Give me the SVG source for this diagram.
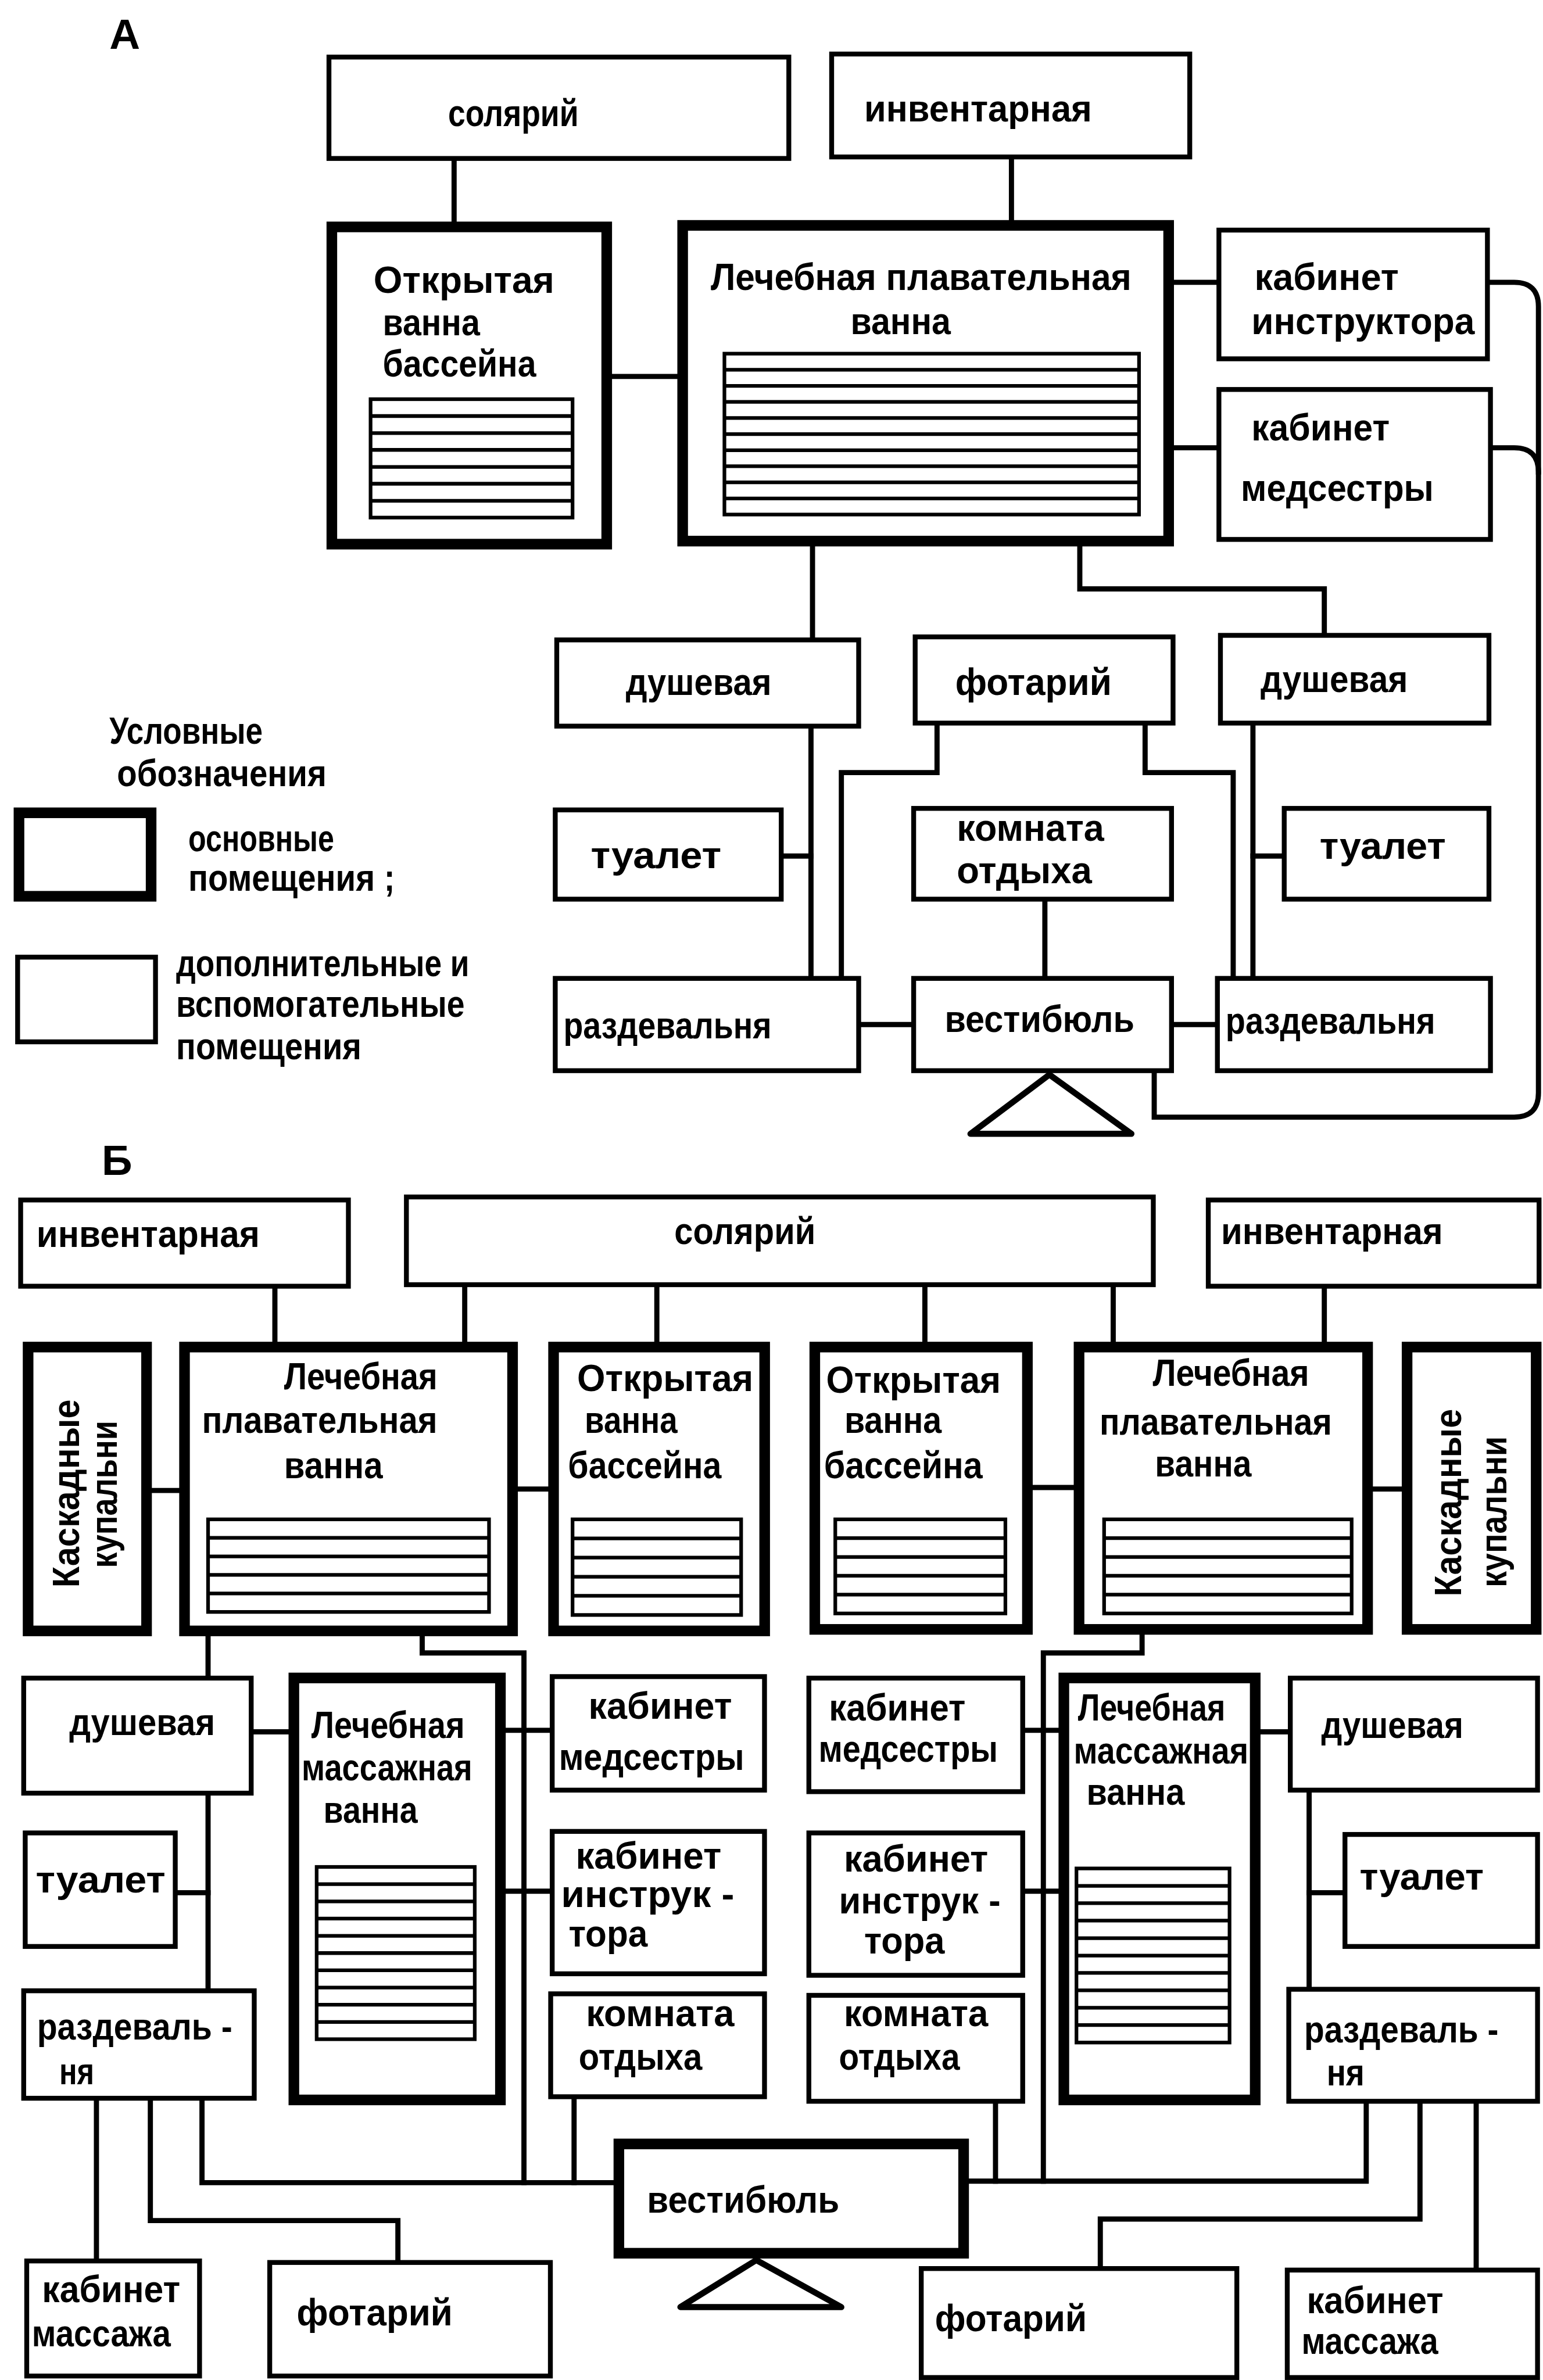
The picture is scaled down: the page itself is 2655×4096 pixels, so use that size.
<svg xmlns="http://www.w3.org/2000/svg" width="2655" height="4096" viewBox="0 0 2655 4096">
<style>
  .box { fill: #fff; stroke: #000; stroke-width: 3.2; }
  .main { fill: #fff; stroke: #000; stroke-width: 7; }
  .wire { fill: none; stroke: #000; stroke-width: 3.4; stroke-linejoin: miter; stroke-linecap: square; }
  .pool { fill: none; stroke: #000; stroke-width: 2.4; }
  .entry { fill: #fff; stroke: #000; stroke-width: 4; stroke-linejoin: round; }
  text { font-family: "Liberation Sans Narrow", "Liberation Sans", Arial, sans-serif; font-size: 25px; font-weight: bold; fill: #000; }
  .tag { font-size: 28px; }
</style>
<rect width="2655" height="4096" fill="#fff"/>
<g transform="scale(2.6132,2.6122)">

  <!-- scheme A : links between rooms -->
  <g id="connectors-a">
    <path class="wire" d="M299,106V146"/>
    <path class="wire" d="M666,105V145"/>
    <path class="wire" d="M403,248H446"/>
    <path class="wire" d="M773,186H801"/>
    <path class="wire" d="M773,295H801"/>
    <path class="wire" d="M981,186H997Q1013,186 1013,202V720Q1013,736 997,736H760V707"/>
    <path class="wire" d="M983,295H997Q1013,295 1013,311"/>
    <path class="wire" d="M535,360V420"/>
    <path class="wire" d="M711,360V388H872V417"/>
    <path class="wire" d="M534,480V643"/>
    <path class="wire" d="M516,564H534"/>
    <path class="wire" d="M617,478V509H554V643"/>
    <path class="wire" d="M754,478V509H812V643"/>
    <path class="wire" d="M825,478V643"/>
    <path class="wire" d="M825,564H844"/>
    <path class="wire" d="M688,594V643"/>
    <path class="wire" d="M567,675H600"/>
    <path class="wire" d="M773,675H800"/>
  </g>

  <!-- scheme B : links between rooms -->
  <g id="connectors-b">
    <path class="wire" d="M181,849V884"/>
    <path class="wire" d="M306,848V884"/>
    <path class="wire" d="M432.5,848V884"/>
    <path class="wire" d="M609,848V884"/>
    <path class="wire" d="M733,848V884"/>
    <path class="wire" d="M872,849V884"/>
    <path class="wire" d="M100,982H118"/>
    <path class="wire" d="M341,981H361"/>
    <path class="wire" d="M680,980H707"/>
    <path class="wire" d="M904,981H923"/>
    <path class="wire" d="M137,1078V1104"/>
    <path class="wire" d="M137,1183V1310"/>
    <path class="wire" d="M117,1247H137"/>
    <path class="wire" d="M167,1141H190"/>
    <path class="wire" d="M278,1078V1089H345V1438"/>
    <path class="wire" d="M333,1140H362"/>
    <path class="wire" d="M333,1246H362"/>
    <path class="wire" d="M378,1383V1438"/>
    <path class="wire" d="M133,1384V1438H404"/>
    <path class="wire" d="M99,1384V1463H262V1489"/>
    <path class="wire" d="M63.5,1384V1488"/>
    <path class="wire" d="M752,1077V1089H687V1437"/>
    <path class="wire" d="M675,1140H697"/>
    <path class="wire" d="M675,1246H697"/>
    <path class="wire" d="M655.5,1386V1437"/>
    <path class="wire" d="M638,1437H899.6V1386"/>
    <path class="wire" d="M935,1386V1462H724.5V1493"/>
    <path class="wire" d="M972,1386V1494"/>
    <path class="wire" d="M830,1141H848"/>
    <path class="wire" d="M862,1181V1309"/>
    <path class="wire" d="M862,1247H884"/>
  </g>

  <!-- ===================== scheme A ===================== -->
  <text class="tag" x="72" y="32">А</text>

  <g id="a-solarium">
    <rect class="box" x="216.6" y="37.6" width="302.8" height="66.8"/>
    <text x="295" y="83" textLength="86" lengthAdjust="spacingAndGlyphs">солярий</text>
  </g>
  <g id="a-inventory">
    <rect class="box" x="547.6" y="35.6" width="235.8" height="67.8"/>
    <text x="569" y="80" textLength="150" lengthAdjust="spacingAndGlyphs">инвентарная</text>
  </g>
  <g id="a-open-pool">
    <rect class="main" x="218.5" y="149.5" width="181" height="209"/>
    <text x="246" y="193" textLength="119" lengthAdjust="spacingAndGlyphs">Открытая</text>
    <text x="252" y="221" textLength="64" lengthAdjust="spacingAndGlyphs">ванна</text>
    <text x="252" y="248" textLength="101" lengthAdjust="spacingAndGlyphs">бассейна</text>
    <rect class="pool" x="244" y="263" width="133" height="78"/>
    <path class="pool" d="M244,274.1H377M244,285.3H377M244,296.4H377M244,307.6H377M244,318.7H377M244,329.9H377"/>
  </g>
  <g id="a-swim-pool">
    <rect class="main" x="449.5" y="148.5" width="320" height="208"/>
    <text x="468" y="191" textLength="277" lengthAdjust="spacingAndGlyphs">Лечебная плавательная</text>
    <text x="560" y="220" textLength="66" lengthAdjust="spacingAndGlyphs">ванна</text>
    <rect class="pool" x="477" y="233" width="273" height="106"/>
    <path class="pool" d="M477,243.6H750M477,254.2H750M477,264.8H750M477,275.4H750M477,286H750M477,296.6H750M477,307.2H750M477,317.8H750M477,328.4H750"/>
  </g>
  <g id="a-instructor">
    <rect class="box" x="802.6" y="151.6" width="176.8" height="84.8"/>
    <text x="826" y="191" textLength="95" lengthAdjust="spacingAndGlyphs">кабинет</text>
    <text x="824" y="220" textLength="147" lengthAdjust="spacingAndGlyphs">инструктора</text>
  </g>
  <g id="a-nurse">
    <rect class="box" x="802.6" y="256.6" width="178.8" height="98.8"/>
    <text x="824" y="290" textLength="91" lengthAdjust="spacingAndGlyphs">кабинет</text>
    <text x="817" y="330" textLength="127" lengthAdjust="spacingAndGlyphs">медсестры</text>
  </g>
  <g id="a-shower-left">
    <rect class="box" x="366.6" y="421.6" width="198.8" height="56.8"/>
    <text x="412" y="458" textLength="96" lengthAdjust="spacingAndGlyphs">душевая</text>
  </g>
  <g id="a-photarium">
    <rect class="box" x="602.6" y="419.6" width="169.8" height="56.8"/>
    <text x="629" y="458" textLength="103" lengthAdjust="spacingAndGlyphs">фотарий</text>
  </g>
  <g id="a-shower-right">
    <rect class="box" x="803.6" y="418.6" width="176.8" height="57.8"/>
    <text x="830" y="456" textLength="97" lengthAdjust="spacingAndGlyphs">душевая</text>
  </g>
  <g id="a-wc-left">
    <rect class="box" x="365.6" y="533.6" width="148.8" height="58.8"/>
    <text x="389" y="572" textLength="86" lengthAdjust="spacingAndGlyphs">туалет</text>
  </g>
  <g id="a-rest">
    <rect class="box" x="601.6" y="532.6" width="169.8" height="59.8"/>
    <text x="630" y="554" textLength="97" lengthAdjust="spacingAndGlyphs">комната</text>
    <text x="630" y="582" textLength="89" lengthAdjust="spacingAndGlyphs">отдыха</text>
  </g>
  <g id="a-wc-right">
    <rect class="box" x="845.6" y="532.6" width="134.8" height="59.8"/>
    <text x="869" y="566" textLength="83" lengthAdjust="spacingAndGlyphs">туалет</text>
  </g>
  <g id="a-changing-left">
    <rect class="box" x="365.6" y="644.6" width="199.8" height="60.8"/>
    <text x="371" y="684" textLength="137" lengthAdjust="spacingAndGlyphs">раздевальня</text>
  </g>
  <g id="a-lobby">
    <rect class="box" x="601.6" y="644.6" width="169.8" height="60.8"/>
    <text x="622" y="680" textLength="125" lengthAdjust="spacingAndGlyphs">вестибюль</text>
    <path class="entry" d="M691,708L639,747H745Z"/>
  </g>
  <g id="a-changing-right">
    <rect class="box" x="801.6" y="644.6" width="179.8" height="60.8"/>
    <text x="807" y="681" textLength="138" lengthAdjust="spacingAndGlyphs">раздевальня</text>
  </g>

  <!-- legend -->
  <g id="legend">
    <text x="72" y="490" textLength="101" lengthAdjust="spacingAndGlyphs">Условные</text>
    <text x="77" y="518" textLength="138" lengthAdjust="spacingAndGlyphs">обозначения</text>
    <rect class="main" x="12.5" y="535.5" width="87" height="55"/>
    <text x="124" y="561" textLength="96" lengthAdjust="spacingAndGlyphs">основные</text>
    <text x="124" y="587" textLength="136" lengthAdjust="spacingAndGlyphs">помещения ;</text>
    <rect class="box" x="11.6" y="630.6" width="90.8" height="55.8"/>
    <text x="116" y="643" textLength="193" lengthAdjust="spacingAndGlyphs">дополнительные и</text>
    <text x="116" y="670" textLength="190" lengthAdjust="spacingAndGlyphs">вспомогательные</text>
    <text x="116" y="698" textLength="122" lengthAdjust="spacingAndGlyphs">помещения</text>
  </g>

  <!-- ===================== scheme B ===================== -->
  <text class="tag" x="67" y="774">Б</text>

  <g id="b-inventory-left">
    <rect class="box" x="13.6" y="790.6" width="215.8" height="56.8"/>
    <text x="24" y="821.5" textLength="147" lengthAdjust="spacingAndGlyphs">инвентарная</text>
  </g>
  <g id="b-solarium">
    <rect class="box" x="267.6" y="788.6" width="491.8" height="57.8"/>
    <text x="444" y="819.5" textLength="93" lengthAdjust="spacingAndGlyphs">солярий</text>
  </g>
  <g id="b-inventory-right">
    <rect class="box" x="795.6" y="790.6" width="217.8" height="56.8"/>
    <text x="804" y="819.5" textLength="146" lengthAdjust="spacingAndGlyphs">инвентарная</text>
  </g>

  <g id="b-cascade-left">
    <rect class="main" x="18.5" y="887.5" width="78" height="187"/>
    <text transform="translate(52,984) rotate(-90)" text-anchor="middle" textLength="124" lengthAdjust="spacingAndGlyphs">Каскадные</text>
    <text transform="translate(77,984.5) rotate(-90)" text-anchor="middle" textLength="97" lengthAdjust="spacingAndGlyphs">купальни</text>
  </g>
  <g id="b-swim-left">
    <rect class="main" x="121.5" y="887.5" width="216" height="187"/>
    <text x="187" y="915.5" textLength="101" lengthAdjust="spacingAndGlyphs">Лечебная</text>
    <text x="133" y="944" textLength="155" lengthAdjust="spacingAndGlyphs">плавательная</text>
    <text x="187" y="974" textLength="65" lengthAdjust="spacingAndGlyphs">ванна</text>
    <rect class="pool" x="137" y="1001" width="185" height="61"/>
    <path class="pool" d="M137,1013.2H322M137,1025.4H322M137,1037.6H322M137,1049.8H322"/>
  </g>
  <g id="b-open-left">
    <rect class="main" x="364.5" y="887.5" width="139" height="187"/>
    <text x="380" y="916.5" textLength="116" lengthAdjust="spacingAndGlyphs">Открытая</text>
    <text x="385" y="944" textLength="61" lengthAdjust="spacingAndGlyphs">ванна</text>
    <text x="374" y="974" textLength="101" lengthAdjust="spacingAndGlyphs">бассейна</text>
    <rect class="pool" x="377" y="1001" width="111" height="63"/>
    <path class="pool" d="M377,1013.6H488M377,1026.2H488M377,1038.8H488M377,1051.4H488"/>
  </g>
  <g id="b-open-right">
    <rect class="main" x="536.5" y="887.5" width="140" height="186"/>
    <text x="544" y="917.5" textLength="115" lengthAdjust="spacingAndGlyphs">Открытая</text>
    <text x="556" y="944" textLength="64" lengthAdjust="spacingAndGlyphs">ванна</text>
    <text x="542.5" y="974" textLength="104.5" lengthAdjust="spacingAndGlyphs">бассейна</text>
    <rect class="pool" x="550" y="1001" width="112" height="62"/>
    <path class="pool" d="M550,1013.4H662M550,1025.8H662M550,1038.2H662M550,1050.6H662"/>
  </g>
  <g id="b-swim-right">
    <rect class="main" x="710.5" y="887.5" width="190" height="186"/>
    <text x="759" y="913" textLength="103" lengthAdjust="spacingAndGlyphs">Лечебная</text>
    <text x="724" y="945" textLength="153" lengthAdjust="spacingAndGlyphs">плавательная</text>
    <text x="760.5" y="972.6" textLength="63.5" lengthAdjust="spacingAndGlyphs">ванна</text>
    <rect class="pool" x="727" y="1001" width="163" height="62"/>
    <path class="pool" d="M727,1013.4H890M727,1025.8H890M727,1038.2H890M727,1050.6H890"/>
  </g>
  <g id="b-cascade-right">
    <rect class="main" x="926.5" y="887.5" width="85" height="186"/>
    <text transform="translate(962,990) rotate(-90)" text-anchor="middle" textLength="123.5" lengthAdjust="spacingAndGlyphs">Каскадные</text>
    <text transform="translate(992,996) rotate(-90)" text-anchor="middle" textLength="99.5" lengthAdjust="spacingAndGlyphs">купальни</text>
  </g>

  <g id="b-shower-left">
    <rect class="box" x="15.6" y="1105.6" width="149.8" height="75.8"/>
    <text x="45.6" y="1143" textLength="96" lengthAdjust="spacingAndGlyphs">душевая</text>
  </g>
  <g id="b-massage-bath-left">
    <rect class="main" x="193.5" y="1105.5" width="136" height="278"/>
    <text x="205" y="1145" textLength="101" lengthAdjust="spacingAndGlyphs">Лечебная</text>
    <text x="198.6" y="1173" textLength="112.4" lengthAdjust="spacingAndGlyphs">массажная</text>
    <text x="213" y="1200.8" textLength="62" lengthAdjust="spacingAndGlyphs">ванна</text>
    <rect class="pool" x="208.5" y="1230" width="104.1" height="113.5"/>
    <path class="pool" d="M208.5,1241.35H312.6M208.5,1252.7H312.6M208.5,1264.05H312.6M208.5,1275.4H312.6M208.5,1286.75H312.6M208.5,1298.1H312.6M208.5,1309.45H312.6M208.5,1320.8H312.6M208.5,1332.15H312.6"/>
  </g>
  <g id="b-nurse-left">
    <rect class="box" x="363.6" y="1104.6" width="139.8" height="74.8"/>
    <text x="387.5" y="1132.4" textLength="94.5" lengthAdjust="spacingAndGlyphs">кабинет</text>
    <text x="368" y="1166" textLength="122" lengthAdjust="spacingAndGlyphs">медсестры</text>
  </g>
  <g id="b-wc-left">
    <rect class="box" x="16.6" y="1207.6" width="98.8" height="74.8"/>
    <text x="23.5" y="1247" textLength="85.5" lengthAdjust="spacingAndGlyphs">туалет</text>
  </g>
  <g id="b-instructor-left">
    <rect class="box" x="363.6" y="1206.6" width="139.8" height="93.8"/>
    <text x="379" y="1231" textLength="96" lengthAdjust="spacingAndGlyphs">кабинет</text>
    <text x="369.5" y="1256.4" textLength="114" lengthAdjust="spacingAndGlyphs">инструк -</text>
    <text x="374.4" y="1282.6" textLength="52" lengthAdjust="spacingAndGlyphs">тора</text>
  </g>
  <g id="b-changing-left">
    <rect class="box" x="15.6" y="1311.6" width="151.8" height="70.8"/>
    <text x="24.4" y="1343.6" textLength="128.6" lengthAdjust="spacingAndGlyphs">раздеваль -</text>
    <text x="39" y="1373" textLength="23" lengthAdjust="spacingAndGlyphs">ня</text>
  </g>
  <g id="b-rest-left">
    <rect class="box" x="362.6" y="1313.6" width="140.8" height="67.8"/>
    <text x="385.8" y="1335" textLength="97.7" lengthAdjust="spacingAndGlyphs">комната</text>
    <text x="381" y="1363.5" textLength="81.4" lengthAdjust="spacingAndGlyphs">отдыха</text>
  </g>

  <g id="b-nurse-right">
    <rect class="box" x="532.6" y="1105.6" width="140.8" height="74.8"/>
    <text x="545.8" y="1133.5" textLength="90" lengthAdjust="spacingAndGlyphs">кабинет</text>
    <text x="539" y="1160.7" textLength="118" lengthAdjust="spacingAndGlyphs">медсестры</text>
  </g>
  <g id="b-instructor-right">
    <rect class="box" x="532.6" y="1207.6" width="140.8" height="93.8"/>
    <text x="555.6" y="1233" textLength="95" lengthAdjust="spacingAndGlyphs">кабинет</text>
    <text x="552.4" y="1260.6" textLength="106.4" lengthAdjust="spacingAndGlyphs">инструк -</text>
    <text x="569" y="1287" textLength="53" lengthAdjust="spacingAndGlyphs">тора</text>
  </g>
  <g id="b-rest-right">
    <rect class="box" x="532.6" y="1314.6" width="140.8" height="69.8"/>
    <text x="555.6" y="1335" textLength="95" lengthAdjust="spacingAndGlyphs">комната</text>
    <text x="552.4" y="1363.5" textLength="79.6" lengthAdjust="spacingAndGlyphs">отдыха</text>
  </g>
  <g id="b-massage-bath-right">
    <rect class="main" x="700.5" y="1105.5" width="126" height="278"/>
    <text x="709.8" y="1133.5" textLength="97" lengthAdjust="spacingAndGlyphs">Лечебная</text>
    <text x="707" y="1161.7" textLength="115" lengthAdjust="spacingAndGlyphs">массажная</text>
    <text x="715.4" y="1189" textLength="64.6" lengthAdjust="spacingAndGlyphs">ванна</text>
    <rect class="pool" x="708.8" y="1231" width="100.8" height="114.7"/>
    <path class="pool" d="M708.8,1242.5H809.6M708.8,1253.9H809.6M708.8,1265.4H809.6M708.8,1276.9H809.6M708.8,1288.4H809.6M708.8,1299.8H809.6M708.8,1311.3H809.6M708.8,1322.8H809.6M708.8,1334.2H809.6"/>
  </g>
  <g id="b-shower-right">
    <rect class="box" x="849.6" y="1105.6" width="162.8" height="73.8"/>
    <text x="870" y="1145" textLength="93.5" lengthAdjust="spacingAndGlyphs">душевая</text>
  </g>
  <g id="b-wc-right">
    <rect class="box" x="885.6" y="1208.6" width="126.8" height="73.8"/>
    <text x="895.3" y="1245" textLength="81.7" lengthAdjust="spacingAndGlyphs">туалет</text>
  </g>
  <g id="b-changing-right">
    <rect class="box" x="848.6" y="1310.6" width="163.8" height="73.8"/>
    <text x="858.7" y="1345.7" textLength="128" lengthAdjust="spacingAndGlyphs">раздеваль -</text>
    <text x="873.5" y="1374" textLength="25" lengthAdjust="spacingAndGlyphs">ня</text>
  </g>

  <g id="b-lobby">
    <rect class="main" x="407.5" y="1412.5" width="227" height="72"/>
    <text x="426" y="1457.8" textLength="126.7" lengthAdjust="spacingAndGlyphs">вестибюль</text>
    <path class="entry" d="M498,1489L448,1520H554Z"/>
  </g>
  <g id="b-massage-left">
    <rect class="box" x="17.6" y="1489.6" width="113.8" height="75.8"/>
    <text x="27.7" y="1516.8" textLength="91" lengthAdjust="spacingAndGlyphs">кабинет</text>
    <text x="21" y="1545.7" textLength="91.4" lengthAdjust="spacingAndGlyphs">массажа</text>
  </g>
  <g id="b-photarium-left">
    <rect class="box" x="177.6" y="1490.6" width="184.8" height="74.8"/>
    <text x="195.4" y="1532.2" textLength="102.6" lengthAdjust="spacingAndGlyphs">фотарий</text>
  </g>
  <g id="b-photarium-right">
    <rect class="box" x="606.6" y="1494.6" width="207.8" height="71.8"/>
    <text x="615.6" y="1536" textLength="100" lengthAdjust="spacingAndGlyphs">фотарий</text>
  </g>
  <g id="b-massage-right">
    <rect class="box" x="847.6" y="1495.6" width="164.8" height="70.8"/>
    <text x="860.4" y="1523.9" textLength="90" lengthAdjust="spacingAndGlyphs">кабинет</text>
    <text x="857" y="1550.7" textLength="90" lengthAdjust="spacingAndGlyphs">массажа</text>
  </g>
</g>
</svg>
